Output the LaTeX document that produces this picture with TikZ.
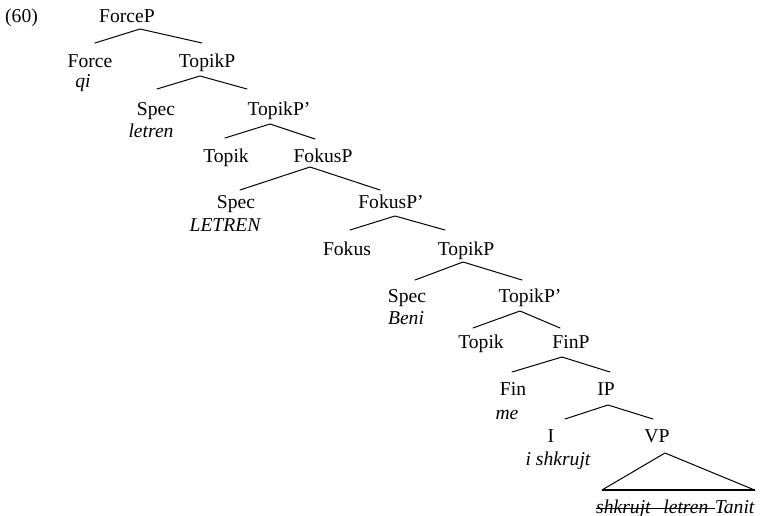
\documentclass[tikz,border=0pt]{standalone}
\usepackage{fontspec}
\setmainfont{Liberation Serif}
\begin{document}
\begin{tikzpicture}[x=1pt,y=-1pt,
  every node/.style={font=\fontsize{19.6}{23}\selectfont, inner sep=0pt, anchor=base},
  word/.style={font=\fontsize{19.6}{23}\selectfont\itshape},
  branch/.style={line width=1pt, line cap=round, line join=round}]
\useasboundingbox (0,0) rectangle (762,516);

% example number
\node (label) at (21.5,23) {(60)};

% categories and words
\node (forcep) at (127,23) {ForceP};
\node (force) at (90,68) {Force};
\node[word] (force-w) at (83,88) {qi};
\node (topikp1) at (207,68) {TopikP};
\node (spec1) at (156,115) {Spec};
\node[word] (spec1-w) at (151,137) {letren};
\node (topikbar1) at (279,115) {TopikP’};
\node (topik1) at (226,162) {Topik};
\node (fokusp) at (323,162) {FokusP};
\node (spec2) at (236,208) {Spec};
\node[word] (spec2-w) at (225,231) {LETREN};
\node (fokusbar) at (391,208) {FokusP’};
\node (fokus) at (347,255) {Fokus};
\node (topikp2) at (466,255) {TopikP};
\node (spec3) at (407,302) {Spec};
\node[word] (spec3-w) at (406,324) {Beni};
\node (topikbar2) at (530,302) {TopikP’};
\node (topik2) at (481,348) {Topik};
\node (finp) at (571,348) {FinP};
\node (fin) at (513,395) {Fin};
\node[word] (fin-w) at (507,419) {me};
\node (ip) at (606,395) {IP};
\node (infl) at (551,442) {I};
\node[word] (infl-w) at (558,465) {i shkrujt};
\node (vp) at (657,442) {VP};
\node[word, anchor=base west] (vp-struck) at (596,513) {shkrujt\hspace{0.65em}letren\kern6pt};
\node[word, anchor=base west] (vp-tanit) at (vp-struck.base east) {Tanit};

% deleted copies are struck through
\draw[line width=1pt] ([yshift=5pt]vp-struck.base west) -- ([yshift=5pt]vp-struck.base east);

% branches
\draw[branch] ([shift={(5,-25)}]force.base) -- ([shift={(13,6)}]forcep.base) -- ([shift={(-5,-25)}]topikp1.base);
\draw[branch] ([shift={(1,-26)}]spec1.base) -- ([shift={(-7,8)}]topikp1.base) -- ([shift={(-32,-26)}]topikbar1.base);
\draw[branch] ([shift={(-1,-24)}]topik1.base) -- ([shift={(-9,9)}]topikbar1.base) -- ([shift={(-8,-23)}]fokusp.base);
\draw[branch] ([shift={(4,-18)}]spec2.base) -- ([shift={(-13,5)}]fokusp.base) -- ([shift={(-11,-18)}]fokusbar.base);
\draw[branch] ([shift={(3,-25)}]fokus.base) -- ([shift={(4,8)}]fokusbar.base) -- ([shift={(-21,-25)}]topikp2.base);
\draw[branch] ([shift={(8,-22)}]spec3.base) -- ([shift={(-3,7)}]topikp2.base) -- ([shift={(-8,-22)}]topikbar2.base);
\draw[branch] ([shift={(-8,-20)}]topik2.base) -- ([shift={(-10,9)}]topikbar2.base) -- ([shift={(-11,-20)}]finp.base);
\draw[branch] ([shift={(-1,-23)}]fin.base) -- ([shift={(-9,9)}]finp.base) -- ([shift={(4,-23)}]ip.base);
\draw[branch] ([shift={(14,-23)}]infl.base) -- ([shift={(2,10)}]ip.base) -- ([shift={(-4,-23)}]vp.base);

% triangle over the VP material
\draw[branch] ([shift={(6,-23)}]vp-struck.base west) -- ([shift={(8,11)}]vp.base) -- ([shift={(0,-23)}]vp-tanit.base east);
\draw[line width=1.8pt] ([shift={(6,-23)}]vp-struck.base west) -- ([shift={(0,-23)}]vp-tanit.base east);
\end{tikzpicture}
\end{document}
